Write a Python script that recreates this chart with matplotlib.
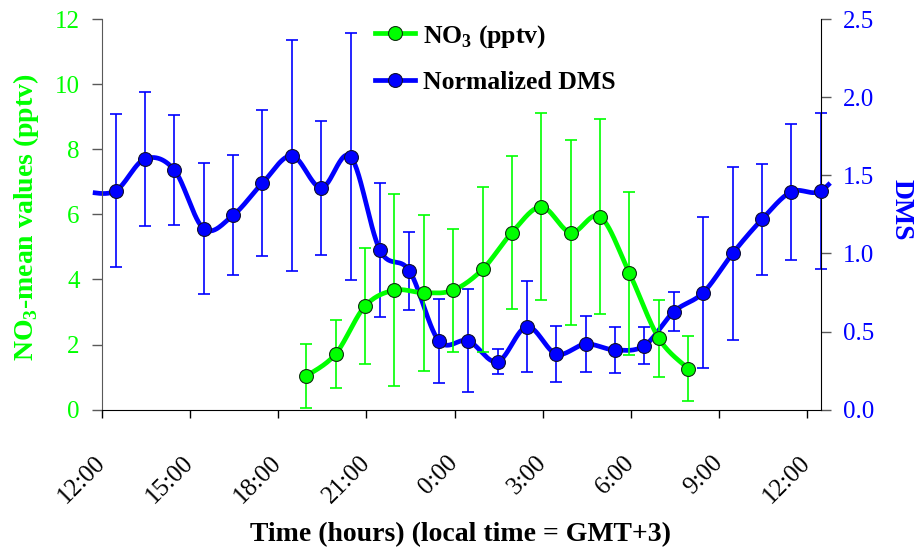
import numpy as np
import matplotlib
matplotlib.use("Agg")
import matplotlib.pyplot as plt
from matplotlib.lines import Line2D
from matplotlib.transforms import ScaledTranslation

plt.rcParams['font.family'] = ['Liberation Serif', 'DejaVu Serif']
plt.rcParams['mathtext.fontset'] = 'custom'
plt.rcParams['mathtext.bf'] = 'Liberation Serif:bold'
plt.rcParams['mathtext.rm'] = 'Liberation Serif'

# hours since 12:00 (local time)
no3_hours = [6.95, 7.95, 8.95, 9.95, 10.95, 11.95, 12.95, 13.95, 14.95, 15.95, 16.95, 17.95, 18.95, 19.95]
no3_mean = [1.03, 1.71, 3.18, 3.67, 3.59, 3.67, 4.31, 5.44, 6.23, 5.44, 5.93, 4.19, 2.19, 1.26]
no3_err = [0.98, 1.03, 1.78, 2.95, 2.40, 1.89, 2.53, 2.36, 2.87, 2.83, 3.00, 2.50, 1.19, 1.00]

# DMS series (first and last value lie just outside the time axis)
dms_hours = [-0.54, 0.46, 1.46, 2.46, 3.46, 4.46, 5.46, 6.46, 7.46, 8.46, 9.46, 10.46, 11.46, 12.46,
             13.46, 14.46, 15.46, 16.46, 17.46, 18.46, 19.46, 20.46, 21.46, 22.46, 23.46, 24.46, 25.46]
dms_norm = [1.395, 1.40, 1.605, 1.534, 1.158, 1.244, 1.45, 1.625, 1.42, 1.619, 1.02, 0.889, 0.441, 0.441,
            0.307, 0.531, 0.356, 0.42, 0.382, 0.41, 0.627, 0.749, 1.00, 1.218, 1.395, 1.40, 1.605]
dms_err = [0.0, 0.49, 0.43, 0.35, 0.42, 0.384, 0.466, 0.74, 0.43, 0.79, 0.43, 0.25, 0.27, 0.33,
           0.08, 0.29, 0.177, 0.178, 0.145, 0.118, 0.123, 0.485, 0.556, 0.356, 0.435, 0.497, 0.0]

tick_hours = [0, 3, 6, 9, 12, 15, 18, 21, 24]
tick_labels = ["12:00", "15:00", "18:00", "21:00", "0:00", "3:00", "6:00", "9:00", "12:00"]

GREEN = '#00FF00'
BLUE = '#0000FF'
XMAX = 24.46


def smooth(x, y, n=30):
    # Catmull-Rom style smoothing like the spreadsheet "smoothed line"
    x = np.asarray(x, float)
    y = np.asarray(y, float)
    px = np.concatenate([[x[0]], x, [x[-1]]])
    py = np.concatenate([[y[0]], y, [y[-1]]])
    t = np.linspace(0, 1, n)[:, None]
    out = []
    for i in range(1, len(px) - 2):
        p0 = np.array([px[i - 1], py[i - 1]])
        p1 = np.array([px[i], py[i]])
        p2 = np.array([px[i + 1], py[i + 1]])
        p3 = np.array([px[i + 2], py[i + 2]])
        b1 = p1 + (p2 - p0) / 6
        b2 = p2 - (p3 - p1) / 6
        seg = ((1 - t) ** 3) * p1 + 3 * ((1 - t) ** 2) * t * b1 + 3 * (1 - t) * t ** 2 * b2 + t ** 3 * p2
        out.append(seg)
    out = np.vstack(out)
    return out[:, 0], out[:, 1]


fig = plt.figure(figsize=(9.15, 5.48), dpi=100)
ax = fig.add_axes([0.1115, 0.2524, 0.7855, 0.7129])
ax2 = ax.twinx()
ax.set_zorder(ax2.get_zorder() + 1)
ax.patch.set_visible(False)

# DMS on the right axis
sx, sy = smooth(dms_hours, dms_norm)
keep = (sx >= -0.24) & (sx <= XMAX + 0.27)
ax2.plot(sx[keep], sy[keep], color=BLUE, lw=3.4, clip_on=False, zorder=3)
vis = [i for i, h in enumerate(dms_hours) if 0 <= h <= XMAX + 0.01]
ax2.errorbar([dms_hours[i] for i in vis], [dms_norm[i] for i in vis], yerr=[dms_err[i] for i in vis],
             fmt='none', ecolor=BLUE, elinewidth=1.2, capsize=4, capthick=1.2, clip_on=False, zorder=2)
ax2.plot([dms_hours[i] for i in vis], [dms_norm[i] for i in vis], 'o', color=BLUE, ms=10,
         mec='#101030', mew=0.8, clip_on=False, zorder=4)

# NO3 on the left axis
gx, gy = smooth(no3_hours, no3_mean)
ax.errorbar(no3_hours, no3_mean, yerr=no3_err, fmt='none', ecolor=GREEN, elinewidth=1.2,
            capsize=4, capthick=1.2, clip_on=False, zorder=2)
ax.plot(gx, gy, color=GREEN, lw=3.4, zorder=3)
ax.plot(no3_hours, no3_mean, 'o', color=GREEN, ms=10, mec='#103010', mew=0.8, zorder=4)

ax.set_xlim(0, XMAX)
ax.set_ylim(0, 12)
ax2.set_ylim(0, 2.5)
ax.set_yticks(np.arange(0, 13, 2))
ax2.set_yticks(np.arange(0, 2.6, 0.5))
ax2.set_yticklabels(["%.1f" % v for v in np.arange(0, 2.6, 0.5)])
ax.set_xticks(tick_hours)
ax.set_xticklabels(tick_labels, rotation=45, ha='right', va='center', rotation_mode='anchor')
shift = ScaledTranslation(-0.10, 0.03, fig.dpi_scale_trans)
for lab in ax.get_xticklabels():
    lab.set_transform(lab.get_transform() + shift)

ax.tick_params(axis='y', direction='out', length=7, width=1, color='0.35', labelsize=18,
               labelcolor=GREEN, pad=9)
ax.tick_params(axis='x', direction='out', length=6, width=1, color='black', labelsize=18, pad=30)
ax2.tick_params(axis='y', direction='out', length=7, width=1, color='0.35', labelsize=18,
                labelcolor=BLUE, pad=9)

for s in ['top', 'right']:
    ax.spines[s].set_visible(False)
for s in ['top', 'left', 'bottom']:
    ax2.spines[s].set_visible(False)
ax.spines['left'].set_color('0.35')
ax.spines['bottom'].set_color('black')
ax2.spines['right'].set_color('black')

fig.text(0.5038, 0.013, "Time (hours) (local time = GMT+3)", ha='center', va='baseline',
         fontsize=20, fontweight='bold')
fig.text(0.028, 0.604, "NO$_\\mathbf{3}$-mean values (pptv)", ha='center', va='center',
         rotation=90, fontsize=20, fontweight='bold', color=GREEN)
fig.text(0.985, 0.618, "DMS", ha='center', va='center', rotation=270, fontsize=20,
         fontweight='bold', color=BLUE)

handles = [
    Line2D([], [], color=GREEN, lw=3.4, marker='o', ms=10, mfc=GREEN, mec='#103010', mew=0.8),
    Line2D([], [], color=BLUE, lw=3.4, marker='o', ms=10, mfc=BLUE, mec='#101030', mew=0.8),
]
fig.legend(handles, ["NO$_\\mathbf{3}$ (pptv)", "Normalized DMS"], loc='upper left',
           bbox_to_anchor=(0.396, 0.982), frameon=False, borderpad=0, handlelength=1.55,
           handletextpad=0.3, labelspacing=0.85, prop={'size': 18.5, 'weight': 'bold'})

fig.savefig("out.png", dpi=100)
